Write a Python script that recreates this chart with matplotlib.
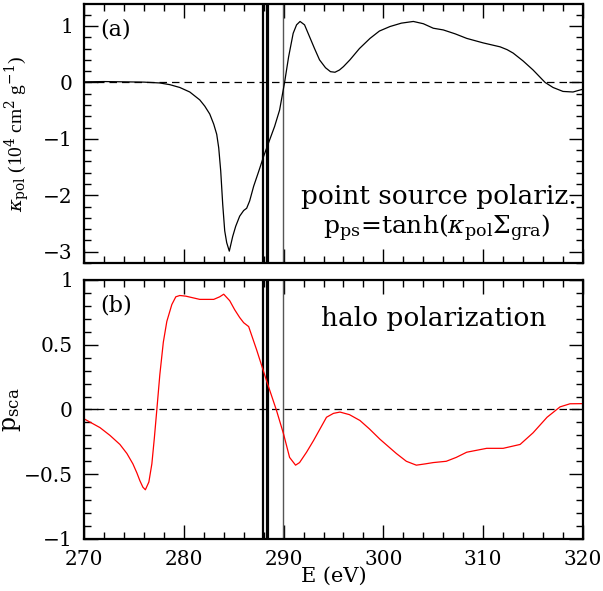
import numpy as np
import matplotlib
matplotlib.use("Agg")
import matplotlib.pyplot as plt
from matplotlib.ticker import MultipleLocator, FuncFormatter

plt.rcParams['font.family'] = ['DejaVu Serif']
plt.rcParams['mathtext.fontset'] = 'dejavuserif'
plt.rcParams['axes.unicode_minus'] = True

# (a) kappa_pol, units of 1e4 cm^2/g
e_kap = [270, 272, 274, 276, 277.6, 278.6, 279.6, 280.6, 281.6, 282.1, 282.6, 283.0,
         283.3, 283.5, 283.7, 283.9, 284.1, 284.3, 284.56, 284.9, 285.2, 285.6, 286.0,
         286.3, 286.6, 287.0, 287.5, 288.0, 288.6, 289.1, 289.6, 290.1, 290.5, 290.96,
         291.3, 291.65, 292.1, 292.6, 293.1, 293.6, 294.2, 294.7, 295.15, 295.6, 296.0,
         296.65, 297.6, 298.66, 299.6, 300.66, 301.8, 303.0, 304.0, 305.0, 306.0, 307.2,
         308.35, 310.0, 311.7, 312.4, 313.0, 314.0, 315.0, 315.6, 316.2, 317.0, 318.0,
         319.0, 320]
kap = [0.01, 0.015, 0.01, 0.005, -0.01, -0.04, -0.09, -0.17, -0.31, -0.42, -0.56, -0.74,
       -0.92, -1.16, -1.57, -2.16, -2.63, -2.84, -2.99, -2.73, -2.55, -2.37, -2.27,
       -2.23, -2.1, -1.84, -1.58, -1.31, -1.02, -0.78, -0.49, 0.0, 0.45, 0.87,
       1.02, 1.08, 1.02, 0.81, 0.6, 0.4, 0.26, 0.19, 0.18, 0.22, 0.28,
       0.40, 0.6, 0.78, 0.91, 0.99, 1.05, 1.08, 1.04, 0.96, 0.93, 0.86,
       0.78, 0.7, 0.63, 0.58, 0.52, 0.38, 0.22, 0.11, 0.0, -0.09, -0.16,
       -0.17, -0.12]

# (b) p_sca
e_psc = [270, 271.6, 272.6, 273.6, 274.3, 274.9, 275.3, 275.6, 275.9, 276.15, 276.5,
         276.8, 277.05, 277.3, 277.6, 277.95, 278.3, 278.8, 279.2, 279.6, 280.2,
         281.6, 283.0, 283.6, 284.0, 284.6, 285.1, 285.6, 286.0, 286.5, 287.3,
         288.3, 289.3, 290.0, 290.6, 291.2, 291.6, 292.3, 293.0, 294.3, 295.0, 295.65,
         296.6, 297.65, 298.6, 299.66, 301.3, 302.3, 303.3, 304.2, 305.0, 306.3,
         307.3, 308.35, 310.35, 312.0, 313.7, 315.0, 316.4, 317.7, 318.7, 320]
psc = [-0.072, -0.14, -0.2, -0.27, -0.34, -0.42, -0.49, -0.55, -0.6, -0.62, -0.56,
       -0.42, -0.22, 0.0, 0.27, 0.52, 0.68, 0.81, 0.87, 0.88, 0.875,
       0.85, 0.85, 0.87, 0.89, 0.84, 0.77, 0.71, 0.67, 0.64, 0.46,
       0.22, -0.01, -0.19, -0.37, -0.43, -0.41, -0.33, -0.24, -0.06, -0.03, -0.02,
       -0.04, -0.085, -0.15, -0.23, -0.34, -0.40, -0.43, -0.42, -0.41, -0.40,
       -0.37, -0.33, -0.30, -0.30, -0.27, -0.18, -0.06, 0.02, 0.044, 0.045]

# marker lines
v_thick = [287.97, 288.37]
v_thick_w = [1.6, 2.3]
v_thin = 289.97

fig = plt.figure(figsize=(6.03, 5.91), dpi=100)
ax1 = fig.add_axes([0.1393, 0.555, 0.8275, 0.4383])
ax2 = fig.add_axes([0.1393, 0.088, 0.8275, 0.4383])

fmt = FuncFormatter(lambda v, p: ('%g' % v).replace('-', '\u2212'))

for ax in (ax1, ax2):
    ax.set_xlim(270, 320)
    ax.axhline(0, color='k', lw=0.9, ls=(0, (6, 4)))
    for xv, w in zip(v_thick, v_thick_w):
        ax.axvline(xv, color='k', lw=w)
    ax.axvline(v_thin, color='#555555', lw=1.0)
    ax.xaxis.set_major_locator(MultipleLocator(10))
    ax.xaxis.set_minor_locator(MultipleLocator(2))
    ax.yaxis.set_major_formatter(fmt)
    ax.tick_params(which='both', direction='in', top=True, right=True, width=1.0,
                   labelsize=14.5)
    ax.tick_params(which='major', length=10)
    ax.tick_params(which='minor', length=5)
    ax.tick_params(axis='y', pad=8)
    ax.tick_params(axis='x', pad=8)
    for s in ax.spines.values():
        s.set_linewidth(1.6)

ax1.plot(e_kap, kap, color='k', lw=0.9)
ax1.set_ylim(-3.2, 1.39)
ax1.yaxis.set_major_locator(MultipleLocator(1))
ax1.yaxis.set_minor_locator(MultipleLocator(0.2))
ax1.tick_params(axis='x', labelbottom=False)
ax1.set_ylabel(r'$\kappa_{\rm pol}$ (10$^4$ cm$^2$ g$^{-1}$)', fontsize=14,
               family='Liberation Serif')
ax1.yaxis.set_label_coords(-0.105, 0.5)
ax1.text(0.032, 0.9, '(a)', transform=ax1.transAxes, fontsize=16, va='center')
ax1.text(0.988, 0.255, 'point source polariz.', transform=ax1.transAxes,
         fontsize=19, ha='right', va='center')
ax1.text(0.935, 0.135, r'p$_{\rm ps}$=tanh($\kappa_{\rm pol}\Sigma_{\rm gra}$)',
         transform=ax1.transAxes, fontsize=18, ha='right', va='center')

ax2.plot(e_psc, psc, color='red', lw=0.9)
ax2.set_ylim(-1, 1)
ax2.yaxis.set_major_locator(MultipleLocator(0.5))
ax2.yaxis.set_minor_locator(MultipleLocator(0.1))
ax2.set_ylabel(r'p$_{\rm sca}$', fontsize=17)
ax2.yaxis.set_label_coords(-0.122, 0.5)
ax2.set_xlabel('E (eV)', fontsize=15, labelpad=-2)
ax2.text(0.032, 0.9, '(b)', transform=ax2.transAxes, fontsize=16, va='center')
ax2.text(0.70, 0.853, 'halo polarization', transform=ax2.transAxes,
         fontsize=19, ha='center', va='center')

fig.savefig('out.png', dpi=100)
